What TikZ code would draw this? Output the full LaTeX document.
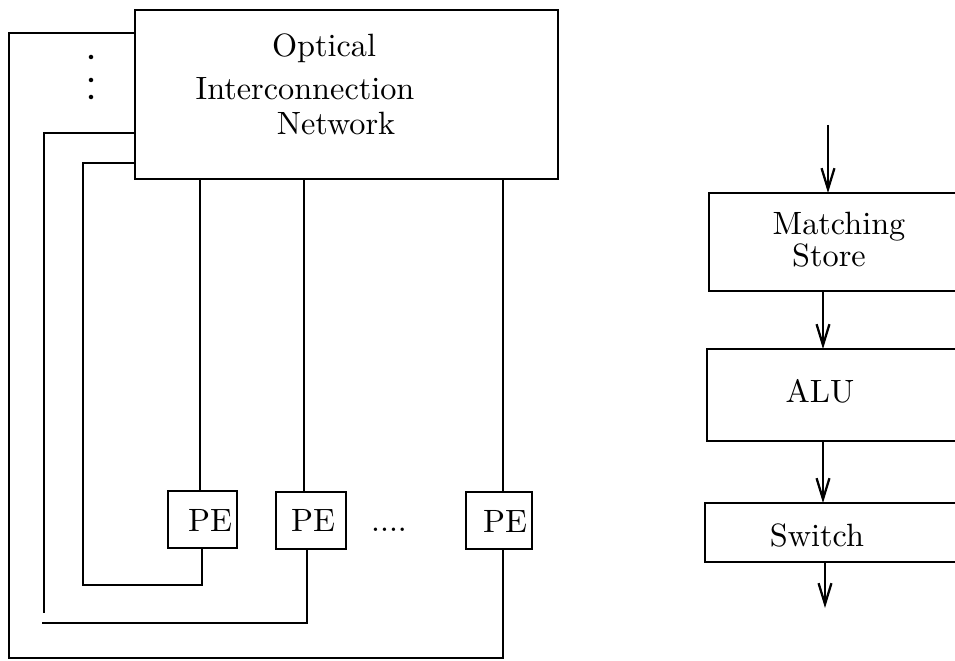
\documentclass[tikz,border=0pt]{standalone}
\usetikzlibrary{arrows.meta,fit}
\begin{document}
\begin{tikzpicture}[x=0.31pt,y=-0.31pt,
  line width=0.7pt,
  box/.style={draw, rectangle, inner sep=0pt, outer sep=0pt},
  lbl/.style={anchor=base, inner sep=0pt, font=\fontsize{10}{12}\selectfont},
  wire/.style={line join=miter},
  arr/.style={-{Straight Barb[length=6.5pt,width=4pt]}}]
\useasboundingbox (0,0) rectangle (955,661);
\clip (0,0) rectangle (955,661);

% ---------- optical interconnection network ----------
\node[box, fit={(135,10)(558,179)}] (net) {};
\node[lbl] (t1) at (324,57) {Optical};
\node[lbl] (t2) at (305,100) {Interconnection};
\node[lbl] (t3) at (336,135) {Network};

% vertical ellipsis of further links
\fill (91,57) circle[radius=0.7pt];
\fill (91,80) circle[radius=0.7pt];
\fill (91,97) circle[radius=0.7pt];

% ---------- processing elements ----------
\node[box, fit={(168,491)(237,548)}] (pe1) {};
\node[box, fit={(276,492)(346,549)}] (pe2) {};
\node[box, fit={(466,492)(532,549)}] (pe3) {};
\node[lbl] (p1) at (210,531) {PE};
\node[lbl] (p2) at (313,531) {PE};
\node[lbl] (p3) at (505,532) {PE};
\node[lbl] (more) at (389,531) {....};

% column positions of the links
\coordinate (c1t) at (200,0);
\coordinate (c1b) at (202,0);
\coordinate (c2t) at (304,0);
\coordinate (c2b) at (307,0);
\coordinate (c3)  at (503,0);

% links from the network down to each PE
\draw (net.south -| c1t) -- (pe1.north -| c1t);
\draw (net.south -| c2t) -- (pe2.north -| c2t);
\draw (net.south -| c3)  -- (pe3.north -| c3);

% feedback loops from each PE back into the network
\coordinate (l3)  at (83,163);
\coordinate (l3b) at (83,585);
\draw[wire] (net.west |- l3) -- (l3) -- (l3b) -- (l3b -| c1b) -- (pe1.south -| c1b);

\coordinate (l2)  at (44,133);
\coordinate (l2e) at (44,613);
\coordinate (l2s) at (42,623);
\draw[wire] (net.west |- l2) -- (l2) -- (l2e);
\draw[wire] (l2s) -- (l2s -| c2b) -- (pe2.south -| c2b);

\coordinate (l1)  at (9,33);
\coordinate (l1b) at (9,658);
\draw[wire] (net.west |- l1) -- (l1) -- (l1b) -- (l1b -| c3) -- (pe3.south -| c3);

% ---------- PE pipeline ----------
\node[box, fit={(709,193)(965,291)}] (ms) {};
\node[box, fit={(707,349)(965,441)}] (alu) {};
\node[box, fit={(705,503)(965,562)}] (sw) {};
\node[lbl] (m1) at (839,235) {Matching};
\node[lbl] (m2) at (829,267) {Store};
\node[lbl] (a)  at (820,403) {ALU};
\node[lbl] (s)  at (817,547) {Switch};

\coordinate (in)  at (828,125);
\coordinate (ax)  at (823,0);
\coordinate (out) at (825,608);
\draw[arr] (in) -- (in |- ms.north);
\draw[arr] (ms.south -| ax) -- (alu.north -| ax);
\draw[arr] (alu.south -| ax) -- (sw.north -| ax);
\draw[arr] (sw.south -| out) -- (out);
\end{tikzpicture}
\end{document}
